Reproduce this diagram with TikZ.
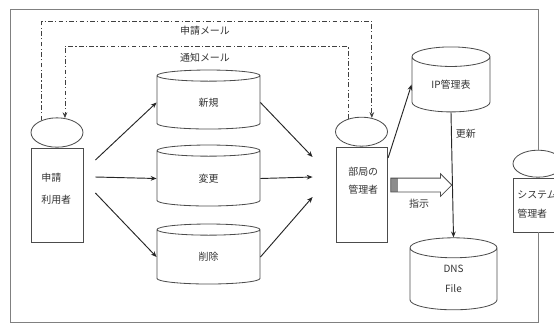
\documentclass[tikz,border=0pt]{standalone}
\usepackage{fontspec}
\setmainfont{Noto Sans CJK JP}
\usetikzlibrary{positioning,shapes.geometric,shapes.arrows,arrows.meta}

\begin{document}
\begin{tikzpicture}[
  x=0.03cm, y=-0.03cm,
  font=\fontsize{8.5}{15.5}\selectfont,
  line width=0.7pt,
  box/.style={rectangle, draw=black!70, minimum width=1.56cm, inner sep=0pt},
  head/.style={ellipse, draw=black!70, minimum width=1.56cm,
               minimum height=0.88cm, inner sep=0pt},
  db/.style={cylinder, shape border rotate=90, aspect=0.56, draw=black!70,
             minimum width=3.09cm, inner sep=0pt, align=center, text=black!80},
  who/.style={anchor=west, align=left, text=black!80},
  lbl/.style={text=black!80},
  arrow/.style={->, >={Stealth[length=5pt,width=4pt]}, black!85, line width=0.8pt},
  mail/.style={->, >={Stealth[length=5pt,width=4pt]}, black!75,
               dash pattern=on 4pt off 2pt on 1pt off 2pt},
  frame/.style={draw=black!50, line width=0.8pt},
  blockarrow/.style={single arrow, draw=black!70, inner xsep=0pt,
                     inner ysep=0.195cm, single arrow head extend=0.13cm,
                     minimum height=1.83cm,
                     path picture={\fill[black!45]
                       (path picture bounding box.south west) rectangle
                       ([xshift=6pt]path picture bounding box.north west);}}
]
\useasboundingbox (0,0) rectangle (554,324);
\clip (0,0) rectangle (554,324);

% persons
\node[box, minimum height=2.82cm] (user) at (57,195) {};
\node[head, above=0pt of user] (userhead) {};
\node[who] (usertxt) at (37,189) {申請\\[3pt]利用者};

\node[box, minimum width=1.53cm, minimum height=2.85cm] (admin) at (361.5,194.5) {};
\node[head, minimum height=0.87cm, above=0pt of admin] (adminhead) {};
\node[who] (admintxt) at (344,181) {部局の\\管理者};

\node[box, minimum width=1.5cm, minimum height=1.62cm] (sys) at (538,205) {};
\node[head, minimum width=1.5cm, minimum height=0.81cm, above=0pt of sys] (syshead) {};
\node[who] (systxt) at (513,204.5) {システム\\管理者};

% tables
\node[db, minimum height=1.77cm] (new) at (208.5,102.5) {新規};
\node[db, minimum height=1.83cm] (chg) at (208.5,178.5) {変更};
\node[db, minimum height=1.8cm] (del) at (208.5,257) {削除};
\node[db, aspect=0.5, minimum width=2.34cm, minimum height=1.95cm] (ip) at (451,84.5) {IP管理表};
\node[db, aspect=1.0, minimum width=2.61cm, minimum height=2.16cm,
      font=\fontsize{8.5}{17}\selectfont] (dns) at (453.5,279) {DNS\\File};

% frame
\coordinate (fnw) at (10,9);
\coordinate (fse) at (538,322);
\draw[frame] (syshead.north) |- (fnw) |- (fse) -- (sys.south);

% mails
\coordinate (reqtop) at (205,21);
\coordinate (ntftop) at (205,46);
\draw[mail] (userhead.141) |- (reqtop) -| (adminhead.53);
\draw[mail] (adminhead.136) |- (ntftop) -| (userhead.61);
\node[lbl] (reqlbl) at (205,31) {申請メール};
\node[lbl] (ntflbl) at (205,58) {通知メール};

% requests
\draw[arrow] ([shift={(12,-35)}]user.east) -- (new.west);
\draw[arrow] ([shift={(12,-18)}]user.east) -- (chg.west);
\draw[arrow] ([shift={(12,-2)}]user.east) -- (del.west);
\draw[arrow] (new.east) -- ([shift={(-23,-37.5)}]admin.west);
\draw[arrow] (chg.east) -- ([shift={(-23,-17.5)}]admin.west);
\draw[arrow] (del.east) -- ([shift={(-23,2.5)}]admin.west);

% updates
\draw[arrow, shorten <=2pt] (admin.53) -- (ip.west);
\draw[arrow] (ip.south) -- node[lbl, right, pos=0.17] {更新} (dns.north);
\node[blockarrow, anchor=west] (order) at ([shift={(3,-9.5)}]admin.east) {};
\node[lbl] (orderlbl) at (419,204) {指示};
\end{tikzpicture}
\end{document}
